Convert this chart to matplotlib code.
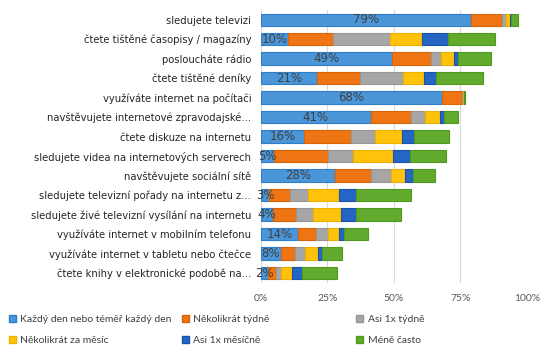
import numpy as np
import matplotlib.pyplot as plt
from matplotlib.patches import Patch

categories = [
    "sledujete televizi",
    "čtete tištěné časopisy / magazíny",
    "posloucháte rádio",
    "čtete tištěné deníky",
    "využíváte internet na počítači",
    "navštěvujete internetové zpravodajské...",
    "čtete diskuze na internetu",
    "sledujete videa na internetových serverech",
    "navštěvujete sociální sítě",
    "sledujete televizní pořady na internetu z...",
    "sledujete živé televizní vysílání na internetu",
    "využíváte internet v mobilním telefonu",
    "využíváte internet v tabletu nebo čtečce",
    "čtete knihy v elektronické podobě na...",
]
series = [
    "Každý den nebo téměř každý den",
    "Několikrát týdně",
    "Asi 1x týdně",
    "Několikrát za měsíc",
    "Asi 1x měsíčně",
    "Méně často",
]
daily    = [79.1, 10.2, 49.4, 21.2, 68.0, 41.2, 16.3, 4.8, 27.7, 3.1, 4.4, 13.8, 7.5, 2.6]
weekly_n = [11.6, 17.0, 14.6, 15.9, 7.6, 15.3, 17.7, 20.4, 13.8, 7.7, 8.9, 7.0, 5.4, 3.2]
weekly_1 = [1.4, 21.2, 3.7, 16.3, 0.2, 5.3, 9.0, 9.4, 7.5, 6.9, 6.1, 4.4, 3.8, 1.6]
monthly_n = [1.4, 12.1, 4.7, 8.0, 0.4, 5.6, 10.0, 15.0, 5.1, 11.5, 10.8, 4.2, 4.6, 4.3]
monthly_1 = [0.5, 10.0, 1.8, 4.5, 0.1, 1.5, 4.6, 6.4, 2.9, 6.7, 5.5, 1.7, 1.5, 3.8]
less     = [2.7, 17.5, 12.4, 17.6, 0.3, 5.3, 13.2, 13.7, 8.4, 20.6, 16.8, 9.3, 7.8, 12.9]
labels = ["79%", "10%", "49%", "21%", "68%", "41%", "16%", "5%", "28%", "3%", "4%", "14%", "8%", "2%"]

colors = ["#4a96d8", "#ef7514", "#a6a6a6", "#ffc20a", "#2565c4", "#62aa2e"]
edges = ["#2f7fc8", "#d86408", "#969696", "#f0b000", "#1a52a8", "#4e9a1e"]

data = np.array([daily, weekly_n, weekly_1, monthly_n, monthly_1, less])

fig = plt.figure(figsize=(5.5, 3.51), dpi=100)
ax = fig.add_axes([0.4745, 0.194, 0.4836, 0.7775])

y = np.arange(len(categories))
left = np.zeros(len(categories))
handles = []
for i in range(len(series)):
    ax.barh(y, data[i], left=left, height=0.64, color=colors[i],
            edgecolor=edges[i], linewidth=0.8, zorder=3)
    handles.append(Patch(facecolor=colors[i], edgecolor=edges[i], label=series[i]))
    left += data[i]

for yi, v, t in zip(y, daily, labels):
    ax.text(v / 2, yi, t, ha="center", va="center", fontsize=8.5,
            color="#404040", zorder=4)

ax.set_ylim(len(categories) - 0.5, -0.5)
ax.set_xlim(0, 100)
ax.set_xticks([0, 25, 50, 75, 100])
ax.set_xticklabels(["0%", "25%", "50%", "75%", "100%"], fontsize=7.5,
                   color="#595959", family="Lato")
ax.set_yticks(y)
ax.set_yticklabels(categories, fontsize=7.2, color="#262626")
ax.tick_params(length=0, pad=7)
ax.tick_params(axis="x", pad=8)
ax.grid(axis="x", color="#d9d9d9", linewidth=0.8, zorder=0)
for s in ax.spines.values():
    s.set_visible(False)

# legend: three columns with two entries each
col_x = [0.008, 0.323, 0.64]
for c in range(3):
    hs = [handles[c], handles[c + 3]]
    fig.legend(handles=hs, loc="upper left", bbox_to_anchor=(col_x[c], 0.115),
               frameon=False, prop={"family": "Lato", "size": 7.5},
               handlelength=0.7, handleheight=0.7, handletextpad=0.4,
               labelspacing=1.1, borderaxespad=0, labelcolor="#404040")

fig.savefig("out.png", dpi=100)
